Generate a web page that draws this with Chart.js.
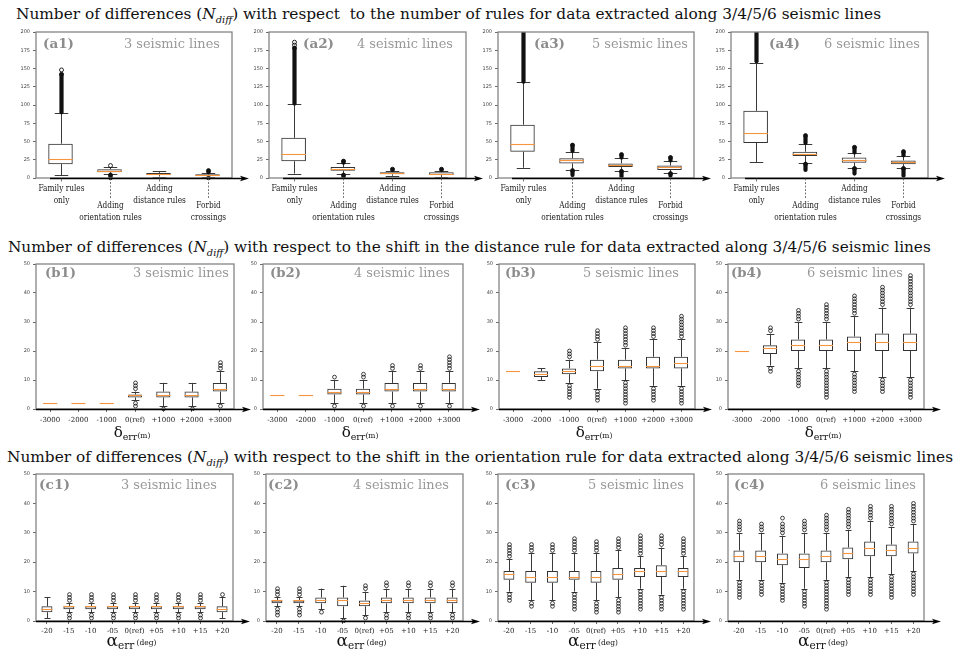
<!DOCTYPE html>
<html>
<head>
<meta charset="utf-8">
<script src="https://cdn.jsdelivr.net/npm/chart.js@4.4.1/dist/chart.umd.min.js"></script>
<style>
html, body { margin: 0; padding: 0; background: #fff; }
body { width: 956px; height: 655px; position: relative; overflow: hidden; font-family: 'DejaVu Serif', serif; }
canvas { position: absolute; }
.t { position: absolute; white-space: nowrap; transform-origin: 0 0; line-height: 1; }
.title { font-size: 15.5px; color: #111; }
.title sub { font-size: 10px; line-height: 0; }
.tag { font-size: 13.5px; font-weight: bold; color: #8c8c8c; }
.lines { font-size: 13.5px; color: #999; }
.ax { position: absolute; white-space: nowrap; color: #111; line-height: 1; transform: translateX(-50%); }
</style>
</head>
<body>
<script>
// categories
const RULE_CATS = [['Family rules', 'only'], ['Adding', 'orientation rules'], ['Adding', 'distance rules'], ['Forbid', 'crossings']];
const SHIFT_CATS = ['-3000', '-2000', '-1000', '0(ref)', '+1000', '+2000', '+3000'];
const ANGLE_CATS = ['-20', '-15', '-10', '-05', '0(ref)', '+05', '+10', '+15', '+20'];
const LINE_COUNTS = ['3 seismic lines', '4 seismic lines', '5 seismic lines', '6 seismic lines'];

// row a: whisker low, q1, median, q3, whisker high; outliers as [first, last] runs (dense blobs)
const a1Low = [4, 5, 2, 1], a1Q1 = [19, 8, 4, 3], a1Med = [26, 10, 6, 4], a1Q3 = [47, 12, 7, 5], a1High = [89, 15, 9, 7];
const a1Out = [[[90, 142], [148, 148]], [[0, 4], [17, 17]], [], [[0, 0], [8, 10]]];
const a2Low = [6, 5, 3, 1], a2Q1 = [23, 10, 5, 4], a2Med = [33, 13, 7, 6], a2Q3 = [55, 15, 8, 8], a2High = [101, 20, 10, 10];
const a2Out = [[[102, 178], [182, 182], [186, 186]], [[1, 4], [21, 23]], [[11, 12]], [[11, 12]]];
const a3Low = [14, 11, 10, 7], a3Q1 = [36, 20, 15, 11], a3Med = [47, 24, 18, 15], a3Q3 = [73, 27, 20, 17], a3High = [131, 36, 27, 23];
const a3Out = [[[132, 205]], [[4, 10], [37, 45]], [[2, 9], [28, 32]], [[3, 6], [24, 28]]];
const a4Low = [22, 20, 14, 14], a4Q1 = [48, 30, 21, 19], a4Med = [62, 33, 25, 22], a4Q3 = [92, 36, 28, 24], a4High = [158, 47, 34, 30];
const a4Out = [[[160, 205]], [[11, 19], [48, 58]], [[6, 13], [35, 42]], [[3, 13], [31, 36]]];

// row b
const b1Low = [2, 2, 2, 3, 1, 1, 2], b1Q1 = [2, 2, 2, 4, 4, 4, 6], b1Med = [2, 2, 2, 5, 5, 5, 7], b1Q3 = [2, 2, 2, 5, 6, 6, 9], b1High = [2, 2, 2, 6, 9, 9, 13];
const b1Out = [[], [], [], [1, 2, 7, 8, 9], [0], [0], [1, 14, 15, 16]];
const b2Low = [5, 5, 2, 2, 2, 2, 2], b2Q1 = [5, 5, 5, 5, 6, 6, 6], b2Med = [5, 5, 6, 6, 7, 7, 7], b2Q3 = [5, 5, 7, 7, 9, 9, 9], b2High = [5, 5, 10, 10, 13, 13, 13];
const b2Out = [[], [], [1, 11], [1, 11, 12], [1, 14, 15], [1, 14, 15], [1, 14, 15, 16, 17, 18]];
const b3Low = [13, 10, 9, 7, 10, 8, 8], b3Q1 = [13, 11, 12, 13, 14, 14, 14], b3Med = [13, 12, 13, 15, 15, 15, 16], b3Q3 = [13, 13, 14, 17, 17, 18, 18], b3High = [13, 14, 17, 23, 21, 24, 24];
const b3Out = [[], [], [4, 5, 6, 7, 8, 18, 19, 20], [3, 4, 5, 6, 24, 25, 26, 27],
  [2, 3, 4, 5, 6, 7, 8, 9, 22, 23, 24, 25, 26, 27, 28], [3, 4, 5, 6, 7, 25, 26, 27, 28],
  [2, 3, 4, 5, 6, 7, 25, 26, 27, 28, 29, 30, 31, 32]];
const b4Low = [20, 15, 14, 14, 13, 11, 11], b4Q1 = [20, 19, 20, 20, 20, 20, 20], b4Med = [20, 21, 22, 22, 23, 23, 23], b4Q3 = [20, 22, 24, 24, 25, 26, 26], b4High = [20, 26, 30, 30, 32, 35, 35];
const b4Out = [[], [13, 14, 27, 28], [8, 9, 10, 11, 12, 13, 31, 32, 33, 34],
  [4, 5, 6, 7, 8, 9, 10, 11, 12, 13, 31, 32, 33, 34, 35, 36],
  [6, 7, 8, 9, 10, 11, 12, 33, 34, 35, 36, 37, 38, 39],
  [6, 7, 8, 9, 10, 36, 37, 38, 39, 40, 41, 42],
  [4, 5, 6, 7, 8, 9, 10, 36, 37, 38, 39, 40, 41, 42, 43, 44, 45, 46]];

// row c
const c1Low = [1, 3, 3, 3, 3, 3, 3, 3, 1], c1Q1 = [3, 4, 4, 4, 4, 4, 4, 4, 3], c1Med = [4, 5, 5, 5, 5, 5, 5, 5, 4], c1Q3 = [5, 5, 5, 5, 5, 5, 5, 5, 5], c1High = [8, 6, 6, 6, 6, 6, 6, 6, 8];
const c1Out = [[], [1, 2, 7, 8, 9], [1, 2, 7, 8, 9], [1, 2, 7, 8, 9], [1, 2, 7, 8, 9], [1, 2, 7, 8, 9], [1, 2, 7, 8, 9], [1, 2, 7, 8, 9], [9]];
const c2Low = [5, 5, 4, 1, 2, 3, 3, 3, 3], c2Q1 = [6, 6, 6, 5, 5, 6, 6, 6, 6], c2Med = [7, 7, 7, 7, 6, 7, 7, 7, 7], c2Q3 = [7, 7, 8, 8, 7, 8, 8, 8, 8], c2High = [8, 8, 11, 12, 10, 11, 11, 11, 11];
const c2Out = [[2, 3, 4, 9, 10, 11], [2, 3, 4, 9, 10, 11], [3], [0], [1, 11, 12], [1, 2, 12, 13], [1, 2, 12, 13], [1, 2, 12, 13], [1, 2, 12, 13]];
const c3Low = [10, 7, 7, 10, 7, 8, 11, 9, 11], c3Q1 = [14, 13, 13, 14, 13, 14, 15, 15, 15], c3Med = [16, 15, 15, 15, 15, 16, 17, 17, 17], c3Q3 = [17, 17, 17, 17, 17, 18, 18, 19, 18], c3High = [21, 23, 23, 23, 23, 24, 22, 25, 22];
const c3Out = [[7, 8, 9, 22, 23, 24, 25, 26], [5, 6, 24, 25, 26], [5, 6, 24, 25, 26],
  [4, 5, 6, 7, 8, 9, 24, 25, 26, 27, 28], [3, 4, 5, 6, 24, 25, 26, 27], [3, 4, 5, 6, 7, 25, 26, 27, 28],
  [4, 5, 6, 7, 8, 9, 10, 23, 24, 25, 26, 27, 28, 29], [4, 5, 6, 7, 8, 26, 27, 28, 29],
  [4, 5, 6, 7, 8, 9, 10, 23, 24, 25, 26, 27, 28]];
const c4Low = [14, 14, 13, 11, 14, 15, 15, 16, 17], c4Q1 = [20, 20, 19, 18, 20, 21, 22, 22, 23], c4Med = [22, 22, 21, 21, 22, 23, 25, 24, 25], c4Q3 = [24, 24, 23, 23, 24, 25, 27, 26, 27], c4High = [30, 30, 29, 30, 30, 31, 34, 32, 33];
const c4Out = [[8, 9, 10, 11, 12, 13, 31, 32, 33, 34], [9, 10, 11, 12, 13, 31, 32, 33],
  [7, 8, 9, 10, 11, 12, 30, 31, 32, 33, 35], [5, 6, 7, 8, 9, 10, 31, 32, 33, 34],
  [4, 5, 6, 7, 8, 9, 10, 11, 12, 13, 31, 32, 33, 34, 35, 36], [9, 10, 11, 12, 13, 14, 32, 33, 34, 35, 36, 37, 38],
  [9, 10, 11, 12, 13, 14, 35, 36, 37, 38, 39], [8, 9, 10, 11, 12, 13, 14, 15, 33, 34, 35, 36, 37, 38, 39],
  [9, 10, 11, 12, 13, 14, 15, 16, 34, 35, 36, 37, 38, 39, 40]];

const ROW_TITLES = [
  'with respect&nbsp; to the number of rules for data extracted along 3/4/5/6 seismic lines',
  'with respect to the shift in the distance rule for data extracted along 3/4/5/6 seismic lines',
  'with respect to the shift in the orientation rule for data extracted along 3/4/5/6 seismic lines'
];

/* ---------- layout ---------- */
const ROWS = [
  { kind: 'rules', cats: RULE_CATS, top: 32, bottom: 178, max: 200, step: 25, bottomH: 46,
    lefts: [36, 269, 498, 731], rights: [232, 466, 694, 928],
    tagX: [43, 303, 534, 769], linesX: [124, 357, 592, 824], labelY: 44,
    titleX: 16, titleW: 865, titleY: 15 },
  { kind: 'shift', cats: SHIFT_CATS, top: 264, bottom: 409, max: 50, step: 10, bottomH: 20,
    lefts: [36, 263, 499, 728], rights: [234, 463, 695, 924],
    tagX: [45, 270, 505, 731], linesX: [133, 354, 583, 807], labelY: 273,
    titleX: 8, titleW: 923, titleY: 248 },
  { kind: 'angle', cats: ANGLE_CATS, top: 474, bottom: 621, max: 50, step: 10, bottomH: 18,
    lefts: [36, 266, 498, 728], rights: [233, 463, 694, 924],
    tagX: [39, 268, 505, 734], linesX: [121, 353, 588, 820], labelY: 485,
    titleX: 7, titleW: 946, titleY: 458 }
];

const PANELS = [
  ['(a1)', 0, 0, a1Low, a1Q1, a1Med, a1Q3, a1High, a1Out],
  ['(a2)', 0, 1, a2Low, a2Q1, a2Med, a2Q3, a2High, a2Out],
  ['(a3)', 0, 2, a3Low, a3Q1, a3Med, a3Q3, a3High, a3Out],
  ['(a4)', 0, 3, a4Low, a4Q1, a4Med, a4Q3, a4High, a4Out],
  ['(b1)', 1, 0, b1Low, b1Q1, b1Med, b1Q3, b1High, b1Out],
  ['(b2)', 1, 1, b2Low, b2Q1, b2Med, b2Q3, b2High, b2Out],
  ['(b3)', 1, 2, b3Low, b3Q1, b3Med, b3Q3, b3High, b3Out],
  ['(b4)', 1, 3, b4Low, b4Q1, b4Med, b4Q3, b4High, b4Out],
  ['(c1)', 2, 0, c1Low, c1Q1, c1Med, c1Q3, c1High, c1Out],
  ['(c2)', 2, 1, c2Low, c2Q1, c2Med, c2Q3, c2High, c2Out],
  ['(c3)', 2, 2, c3Low, c3Q1, c3Med, c3Q3, c3High, c3Out],
  ['(c4)', 2, 3, c4Low, c4Q1, c4Med, c4Q3, c4High, c4Out]
];

const PAD_L = 30, PAD_T = 6, PAD_R = 22;
const SERIF = "'DejaVu Serif', serif";

/** whiskers, medians and fliers, drawn on top of the floating-bar boxes */
function boxPlugin(lo, q1, med, q3, hi, out, dense) {
  return {
    id: 'boxExtras',
    afterDatasetsDraw(chart) {
      const { ctx, chartArea: ca, scales: { y } } = chart;
      const meta = chart.getDatasetMeta(0);
      ctx.save();
      ctx.beginPath();
      ctx.rect(ca.left, ca.top, ca.width, ca.height + 2);
      ctx.clip();
      meta.data.forEach((bar, i) => {
        const cx = Math.round(bar.x) + 0.5;
        const half = bar.width / 2;
        const cap = half * 0.55;
        const flat = lo[i] === hi[i];
        ctx.lineWidth = 1;
        ctx.strokeStyle = '#3a3a3a';
        if (!flat) {
          ctx.beginPath();
          ctx.moveTo(cx, y.getPixelForValue(q3[i]));
          ctx.lineTo(cx, y.getPixelForValue(hi[i]));
          ctx.moveTo(cx, y.getPixelForValue(q1[i]));
          ctx.lineTo(cx, y.getPixelForValue(lo[i]));
          [hi[i], lo[i]].forEach(v => {
            const py = Math.round(y.getPixelForValue(v)) + 0.5;
            ctx.moveTo(cx - cap, py);
            ctx.lineTo(cx + cap, py);
          });
          ctx.stroke();
        }
        // fliers
        ctx.strokeStyle = '#111';
        if (dense) {
          out[i].forEach(([a, b]) => {
            const ya = y.getPixelForValue(a), yb = y.getPixelForValue(b);
            if (a !== b) {
              ctx.lineWidth = 4.2;
              ctx.lineCap = 'round';
              ctx.beginPath();
              ctx.moveTo(cx, ya);
              ctx.lineTo(cx, yb);
              ctx.stroke();
              ctx.lineCap = 'butt';
            }
            ctx.lineWidth = 0.9;
            ctx.beginPath();
            ctx.arc(cx, yb, 2, 0, Math.PI * 2);
            ctx.stroke();
          });
        } else {
          ctx.lineWidth = 0.8;
          out[i].forEach(v => {
            ctx.beginPath();
            ctx.arc(cx, y.getPixelForValue(v), 1.9, 0, Math.PI * 2);
            ctx.stroke();
          });
        }
        // median
        const my = Math.round(y.getPixelForValue(med[i])) + 0.5;
        ctx.strokeStyle = '#f7953f';
        ctx.lineWidth = 1.1;
        ctx.beginPath();
        ctx.moveTo(bar.x - half, my);
        ctx.lineTo(bar.x + half, my);
        ctx.stroke();
      });
      ctx.restore();
    },
    afterDraw(chart) {
      const { ctx, chartArea: ca, scales: { x, y } } = chart;
      ctx.save();
      ctx.strokeStyle = '#858585';
      ctx.lineWidth = 1.3;
      ctx.strokeRect(ca.left, ca.top, ca.width, ca.height);
      const y0 = Math.round(y.getPixelForValue(0)) + 0.5;
      ctx.strokeStyle = '#000';
      ctx.lineWidth = 1.4;
      ctx.beginPath();
      ctx.moveTo(ca.left + (dense ? 14 : 0), y0);
      ctx.lineTo(ca.right + 10, y0);
      ctx.stroke();
      ctx.fillStyle = '#000';
      ctx.beginPath();
      ctx.moveTo(ca.right + 17, y0);
      ctx.lineTo(ca.right + 8, y0 - 2.8);
      ctx.lineTo(ca.right + 10, y0);
      ctx.lineTo(ca.right + 8, y0 + 2.8);
      ctx.closePath();
      ctx.fill();
      if (dense) {
        // staggered category labels
        ctx.font = '9px ' + SERIF;
        ctx.fillStyle = '#1a1a1a';
        ctx.textAlign = 'center';
        ctx.textBaseline = 'middle';
        RULE_CATS.forEach((lines, i) => {
          const cx = Math.round(x.getPixelForValue(i)) + 0.5;
          const low = i % 2 === 1;
          ctx.strokeStyle = '#555';
          ctx.lineWidth = 0.8;
          ctx.setLineDash(low ? [2, 1.5] : []);
          ctx.beginPath();
          ctx.moveTo(cx, y0);
          ctx.lineTo(cx, y0 + (low ? 21 : 3));
          ctx.stroke();
          ctx.setLineDash([]);
          const base = y0 + (low ? 27 : 10);
          lines.forEach((s, k) => {
            ctx.save();
            ctx.translate(cx, base + k * 12);
            ctx.scale(0.82, 1);
            ctx.fillText(s, 0, 0);
            ctx.restore();
          });
        });
      }
      ctx.restore();
    }
  };
}

function addText(cls, html, left, top, w) {
  const d = document.createElement('div');
  d.className = 't ' + cls;
  d.innerHTML = html;
  d.style.left = left + 'px';
  d.style.top = top + 'px';
  if (w) d.dataset.w = w;
  document.body.appendChild(d);
  return d;
}

ROWS.forEach((r, i) => {
  addText('title', 'Number of differences (<i>N</i><sub><i>diff</i></sub>) ' + ROW_TITLES[i], r.titleX, r.titleY - 8, r.titleW);
});

PANELS.forEach(([tag, ri, ci, lo, q1, med, q3, hi, out]) => {
  const r = ROWS[ri];
  const left = r.lefts[ci], right = r.rights[ci];
  const plotW = right - left, plotH = r.bottom - r.top;
  const cv = document.createElement('canvas');
  cv.width = PAD_L + plotW + PAD_R;
  cv.height = PAD_T + plotH + r.bottomH;
  cv.style.left = (left - PAD_L) + 'px';
  cv.style.top = (r.top - PAD_T) + 'px';
  document.body.appendChild(cv);
  const dense = r.kind === 'rules';
  const labels = dense ? RULE_CATS.map(c => c.join(' ')) : r.cats;

  new Chart(cv, {
    type: 'bar',
    data: {
      labels,
      datasets: [{
        data: q1.map((v, k) => [v, q3[k]]),
        backgroundColor: 'rgba(255,255,255,0)',
        borderColor: '#333',
        borderWidth: 1,
        borderSkipped: false,
        barPercentage: 0.5,
        categoryPercentage: 1
      }]
    },
    options: {
      responsive: false,
      animation: false,
      devicePixelRatio: 1,
      layout: { padding: { top: PAD_T, right: PAD_R, left: 0, bottom: 0 } },
      plugins: { legend: { display: false }, tooltip: { enabled: false } },
      scales: {
        x: {
          offset: true,
          grid: { display: !dense, drawOnChartArea: false, offset: false, tickLength: 3, color: '#444', lineWidth: 0.8 },
          border: { display: false },
          ticks: {
            display: !dense, autoSkip: false, maxRotation: 0, minRotation: 0,
            padding: ri === 1 ? 4 : 3, color: '#222', font: { size: 7, family: SERIF }
          },
          afterFit(s) { s.height = r.bottomH; }
        },
        y: {
          min: 0, max: r.max,
          grid: { drawOnChartArea: false, tickLength: 3, color: '#444', lineWidth: 0.8 },
          border: { display: false },
          ticks: { stepSize: r.step, padding: 3, color: '#444', font: { size: 5, family: 'DejaVu Sans' } },
          afterFit(s) { s.width = PAD_L; }
        }
      }
    },
    plugins: [boxPlugin(lo, q1, med, q3, hi, out, dense)]
  });

  addText('tag', tag, r.tagX[ci], r.labelY - 7, 31);
  addText('lines', LINE_COUNTS[ci], r.linesX[ci], r.labelY - 7, 96);

  const mid = (left + right) / 2 - 3;
  if (ri === 1) {
    const d = document.createElement('div');
    d.className = 'ax';
    d.style.left = mid + 'px';
    d.style.top = '424px';
    d.innerHTML = '<span style="font-size:15px">δ</span><span style="font-size:9.5px;position:relative;top:3px">err</span><span style="font-size:7.5px;position:relative;top:1px">(m)</span>';
    document.body.appendChild(d);
  } else if (ri === 2) {
    const d = document.createElement('div');
    d.className = 'ax';
    d.style.left = mid + 'px';
    d.style.top = '632px';
    d.innerHTML = '<span style="font-size:17px">α</span><span style="font-size:10.5px;position:relative;top:3px">err</span><span style="font-size:7.5px;position:relative;top:-1px">&nbsp;(deg)</span>';
    document.body.appendChild(d);
  }
});

// squeeze texts horizontally to the widths of the reference
document.querySelectorAll('[data-w]').forEach(el => {
  const w = el.getBoundingClientRect().width;
  el.style.transform = 'scaleX(' + (+el.dataset.w / w).toFixed(3) + ')';
});
</script>
</body>
</html>
